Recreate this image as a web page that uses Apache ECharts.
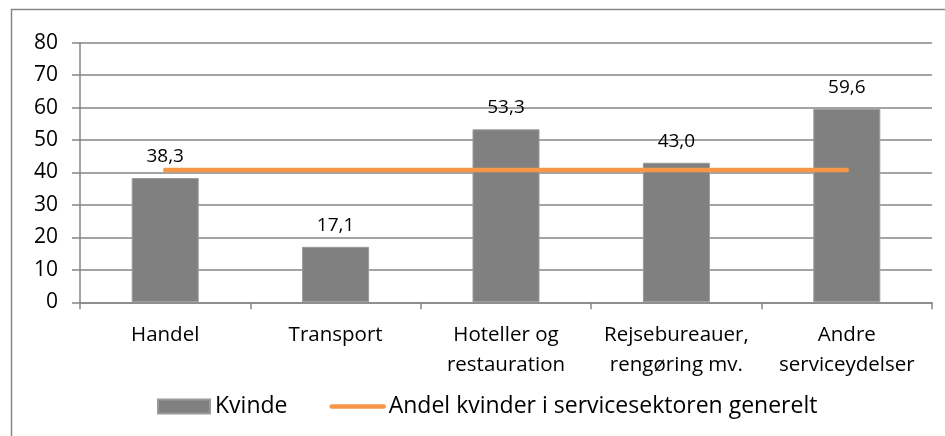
<!DOCTYPE html>
<html>
<head>
<meta charset="utf-8">
<script src="https://cdn.jsdelivr.net/npm/echarts@6/dist/echarts.min.js"></script>
<style>
  html, body { margin: 0; padding: 0; background: #fff; }
  #chart { width: 945px; height: 436px; }
</style>
</head>
<body>
<div id="chart"></div>
<script>
// data
const categories = ['Handel', 'Transport', 'Hoteller og\nrestauration', 'Rejsebureauer,\nrengøring mv.', 'Andre\nserviceydelser']
const kvinde = [38.3, 17.1, 53.3, 43.0, 59.6]
const andelGenerelt = [40.8, 40.8, 40.8, 40.8, 40.8]
const yTicks = { min: 0, max: 80, interval: 10 }

const FONT = '"Open Sans", sans-serif'
const AXIS_GRAY = '#868686'
const ORANGE = '#f79646'

const chart = echarts.init(document.getElementById('chart'))

const fmtComma = (v) => v.toFixed(1).replace('.', ',')

const option = {
  animation: false,
  backgroundColor: '#fff',
  textStyle: { fontFamily: FONT, color: '#000' },
  graphic: [{
    // outer chart-area border
    type: 'rect',
    shape: { x: 11.5, y: 9.5, width: 960, height: 460 },
    style: { fill: 'none', stroke: AXIS_GRAY, lineWidth: 1.5 },
    silent: true
  }],
  grid: {
    left: 80,
    right: 13,
    top: 42.7,
    bottom: 133.7
  },
  legend: {
    left: 152,
    top: 390,
    itemWidth: 52,
    itemHeight: 14,
    itemGap: 42,
    itemTextGap: 4,
    textStyle: { fontFamily: FONT, fontSize: 23, color: '#000' },
    data: [
      { name: 'Kvinde', icon: 'rect' },
      {
        name: 'Andel kvinder i servicesektoren generelt',
        itemStyle: { opacity: 0 },
        lineStyle: { color: ORANGE, width: 4.5, cap: 'round' }
      }
    ]
  },
  xAxis: {
    type: 'category',
    data: categories,
    axisLine: { lineStyle: { color: AXIS_GRAY, width: 1.5 } },
    axisTick: { show: true, length: 7, lineStyle: { color: AXIS_GRAY, width: 1.5 } },
    axisLabel: {
      interval: 0,
      margin: 18,
      fontFamily: FONT,
      fontSize: 20.5,
      lineHeight: 30,
      color: '#000'
    }
  },
  yAxis: {
    type: 'value',
    min: yTicks.min,
    max: yTicks.max,
    interval: yTicks.interval,
    axisLine: { show: true, lineStyle: { color: AXIS_GRAY, width: 1.5 } },
    axisTick: { show: true, length: 8, lineStyle: { color: AXIS_GRAY, width: 1.5 } },
    splitLine: { lineStyle: { color: AXIS_GRAY, width: 1.5 } },
    axisLabel: {
      margin: 22,
      fontFamily: FONT,
      fontSize: 21,
      color: '#000'
    }
  },
  series: [
    {
      name: 'Kvinde',
      type: 'bar',
      data: kvinde,
      barWidth: 67,
      itemStyle: { color: '#808080', borderColor: '#9a9a9a', borderWidth: 1 },
      label: {
        show: true,
        position: 'top',
        distance: 12,
        fontFamily: FONT,
        fontSize: 19,
        color: '#000',
        formatter: (p) => fmtComma(p.value)
      }
    },
    {
      name: 'Andel kvinder i servicesektoren generelt',
      type: 'line',
      data: andelGenerelt,
      symbol: 'none',
      showSymbol: false,
      z: 3,
      lineStyle: { color: ORANGE, width: 4.5, cap: 'round' },
      itemStyle: { color: ORANGE }
    }
  ]
}

chart.setOption(option)
</script>
</body>
</html>
